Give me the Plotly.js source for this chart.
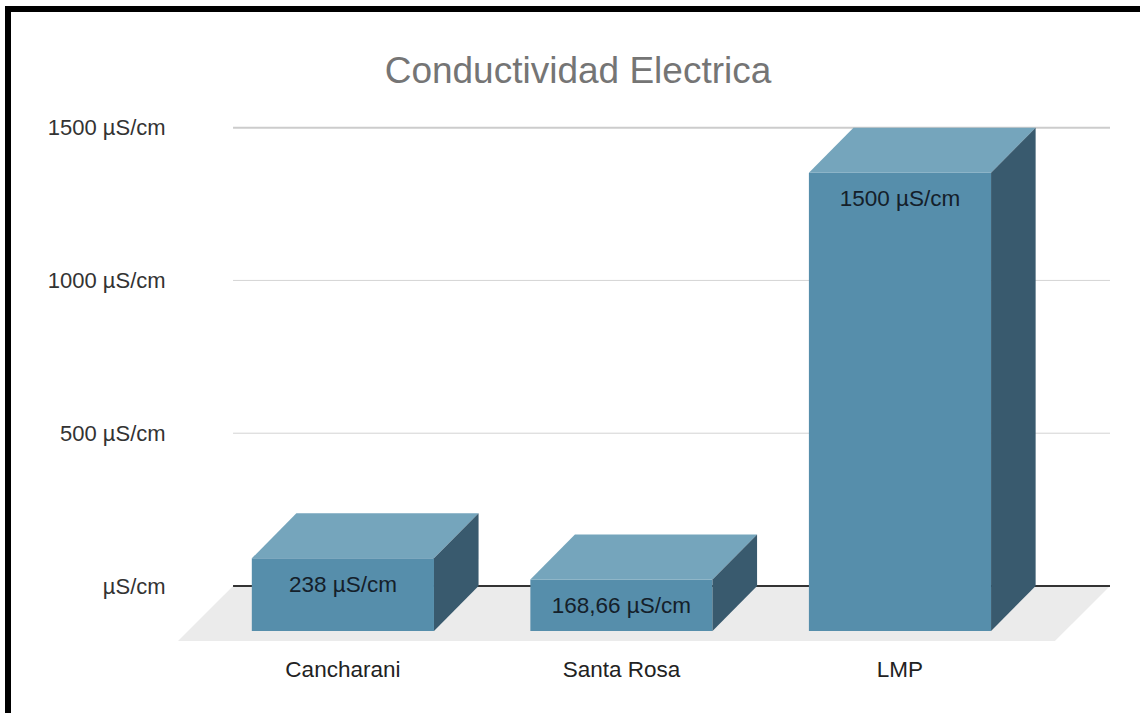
<!DOCTYPE html>
<html>
<head>
<meta charset="utf-8">
<script src="https://cdn.plot.ly/plotly-3.0.1.min.js"></script>
<style>
  html, body { margin: 0; padding: 0; background: #fff; overflow: hidden; }
  #chart { position: absolute; left: 0; top: 0; width: 1140px; height: 713px; }
  #frame { position: absolute; left: 5px; top: 6px; right: 0; bottom: 0; box-sizing: border-box;
           border-left: 6px solid #000; border-top: 6px solid #000;
           pointer-events: none; }
</style>
</head>
<body>
<div id="chart"></div>
<div id="frame"></div>
<script>
// Electrical conductivity per site, in µS/cm
const categories = ['Cancharani', 'Santa Rosa', 'LMP'];
const values = [238, 168.66, 1500];
const valueLabels = ['238 µS/cm', '168,66 µS/cm', '1500 µS/cm'];
const tickValues = [0, 500, 1000, 1500];
const tickLabels = ['µS/cm', '500 µS/cm', '1000 µS/cm', '1500 µS/cm'];

// Box projection, expressed in axis units
const barWidth = 0.654;
const depthX = 0.16;
const depthY = 147.5;
const xRange = [-0.592, 2.754];
const yRange = [-180, 1525];
const wallLeft = xRange[0] + depthX * 1.235;

const FONT = 'Liberation Sans, Arial, sans-serif';
const centers = categories.map((_, i) => i);

// Floor and guide lines stay behind every box
const shapes = [{
  type: 'path', layer: 'below', xref: 'x', yref: 'y', fillcolor: '#ebebeb', line: { width: 0 },
  path: `M ${wallLeft} 0 L ${xRange[1]} 0 L ${xRange[1] - depthX * 1.235} ${yRange[0]} L ${xRange[0]} ${yRange[0]} Z`
}];
tickValues.forEach(v => {
  shapes.push({
    type: 'line', layer: 'below', xref: 'x', yref: 'y',
    x0: wallLeft, x1: xRange[1], y0: v, y1: v,
    line: { width: v === 0 || v === 1500 ? 2 : 1, color: v === 0 ? '#333333' : (v === 1500 ? '#cccccc' : '#d4d4d4') }
  });
});

const traces = [];

// Front faces
traces.push({
  type: 'bar', x: centers, y: values, base: values.map(() => -depthY),
  width: barWidth, marker: { color: '#568eab', line: { width: 0 } },
  hoverinfo: 'x+y', textposition: 'none'
});

// Top and side faces of each box
centers.forEach((c, i) => {
  const l = c - barWidth / 2, r = c + barWidth / 2;
  const top = values[i] - depthY;
  traces.push({
    type: 'scatter', mode: 'lines', fill: 'toself', fillcolor: '#75a5bc',
    line: { width: 0 }, hoverinfo: 'skip',
    x: [l, r, r + depthX, l + depthX], y: [top, top, values[i], values[i]]
  });
  traces.push({
    type: 'scatter', mode: 'lines', fill: 'toself', fillcolor: '#395a6e',
    line: { width: 0 }, hoverinfo: 'skip',
    x: [r, r + depthX, r + depthX, r], y: [top, values[i], 0, -depthY]
  });
});

// Value captions sit just below the top edge of each front face
const labelOffset = 92;
traces.push({
  type: 'scatter', mode: 'text', hoverinfo: 'skip',
  x: centers, y: values.map(v => v - depthY - labelOffset),
  text: valueLabels, textposition: 'middle center',
  textfont: { family: FONT, size: 22.5, color: '#14202a' }
});

const layout = {
  width: 1140, height: 713,
  margin: { l: 178, r: 30, t: 120, b: 72, pad: 0 },
  paper_bgcolor: '#ffffff', plot_bgcolor: '#ffffff',
  showlegend: false,
  shapes: shapes,
  title: { text: 'Conductividad Electrica', x: 0.507, xanchor: 'center', y: 0.902, yanchor: 'middle',
           font: { family: FONT, size: 37, color: '#757575' } },
  xaxis: {
    range: xRange, tickmode: 'array', tickvals: centers, ticktext: categories,
    showgrid: false, zeroline: false, showline: false, ticks: 'outside', ticklen: 8, tickcolor: 'rgba(0,0,0,0)',
    tickfont: { family: FONT, size: 22.5, color: '#222222' }, fixedrange: true
  },
  yaxis: {
    range: yRange, tickmode: 'array', tickvals: tickValues, ticktext: tickLabels,
    showgrid: false, zeroline: false, showline: false, ticks: 'outside', ticklen: 7, tickcolor: 'rgba(0,0,0,0)',
    tickfont: { family: FONT, size: 22, color: '#333333' }, fixedrange: true
  },
  barmode: 'overlay'
};

Plotly.newPlot('chart', traces, layout, { displayModeBar: false, responsive: false });
</script>
</body>
</html>
